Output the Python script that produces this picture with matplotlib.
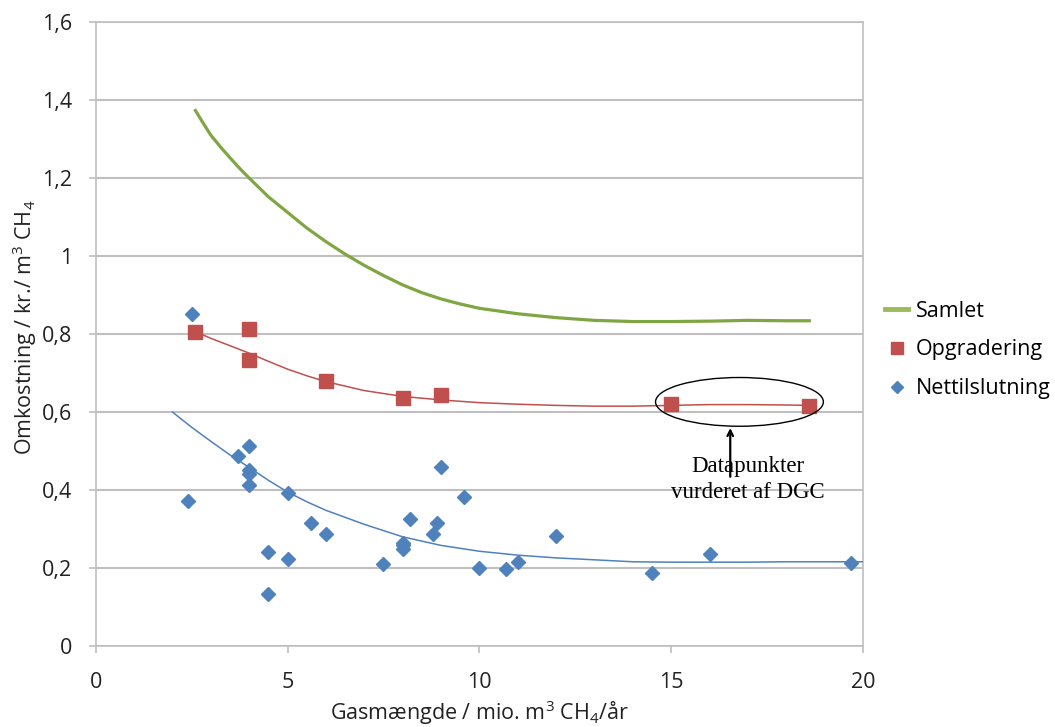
import matplotlib
matplotlib.use("Agg")
import matplotlib.pyplot as plt
from matplotlib.lines import Line2D
from matplotlib.patches import Ellipse

plt.rcParams['font.family'] = ['Open Sans', 'DejaVu Sans']
plt.rcParams['mathtext.fontset'] = 'custom'
plt.rcParams['mathtext.rm'] = 'Open Sans'
plt.rcParams['mathtext.it'] = 'Open Sans'

# Nettilslutning (blue diamonds)
net_x = [2.5, 2.4, 3.7, 4, 4, 4, 4, 4.5, 4.5, 5, 5, 5.6, 6, 7.5, 8, 8, 8, 8.2,
         8.8, 8.9, 9, 9.6, 10, 10.7, 11, 12, 14.5, 16, 19.7]
net_y = [0.851, 0.373, 0.486, 0.514, 0.452, 0.440, 0.413, 0.240, 0.133, 0.393,
         0.224, 0.315, 0.287, 0.210, 0.265, 0.258, 0.250, 0.325, 0.286, 0.315,
         0.458, 0.383, 0.199, 0.197, 0.215, 0.283, 0.186, 0.236, 0.214]

# Opgradering (red squares)
opg_x = [2.6, 4, 4, 6, 8, 9, 15, 18.6]
opg_y = [0.806, 0.813, 0.733, 0.680, 0.635, 0.644, 0.620, 0.616]

# trend lines
net_trend_x = [2, 2.5, 3, 3.5, 4, 4.5, 5, 5.5, 6, 7, 8, 9, 10, 11, 12, 13, 14,
               15, 16, 17, 18, 19, 20]
net_trend_y = [0.600, 0.561, 0.525, 0.490, 0.458, 0.425, 0.395, 0.370, 0.348,
               0.312, 0.280, 0.258, 0.243, 0.233, 0.226, 0.221, 0.216, 0.215,
               0.215, 0.215, 0.216, 0.216, 0.216]

opg_trend_x = [2.6, 3, 3.5, 4, 4.5, 5, 5.5, 6, 7, 8, 9, 10, 11, 12, 13, 14, 15,
               16, 17, 18, 18.6]
opg_trend_y = [0.806, 0.789, 0.770, 0.751, 0.730, 0.710, 0.693, 0.678, 0.655,
               0.640, 0.631, 0.624, 0.620, 0.617, 0.615, 0.615, 0.617, 0.619,
               0.619, 0.618, 0.617]

# Samlet (green line)
sam_x = [2.6, 2.8, 3, 3.25, 3.5, 3.75, 4, 4.5, 5, 5.5, 6, 6.5, 7, 7.5, 8, 8.5,
         9, 9.5, 10, 11, 12, 13, 14, 15, 16, 17, 18, 18.6]
sam_y = [1.373, 1.341, 1.310, 1.280, 1.252, 1.225, 1.200, 1.152, 1.112, 1.072,
         1.037, 1.005, 0.976, 0.950, 0.926, 0.906, 0.890, 0.877, 0.866, 0.852,
         0.842, 0.835, 0.832, 0.832, 0.833, 0.835, 0.834, 0.834]

yticks = [0, 0.2, 0.4, 0.6, 0.8, 1.0, 1.2, 1.4, 1.6]
ytick_labels = ["0", "0,2", "0,4", "0,6", "0,8", "1", "1,2", "1,4", "1,6"]
xticks = [0, 5, 10, 15, 20]

green = '#80a644'
red = '#c0504d'
blue = '#4f81bd'
gridc = '#bfbfbf'
txt = '#222222'

fig = plt.figure(figsize=(10.55, 7.27), dpi=100)
ax = fig.add_axes([0.0907, 0.1114, 0.7273, 0.8583])

ax.plot(sam_x, sam_y, color=green, lw=2.3, zorder=3)
ax.plot(opg_trend_x, opg_trend_y, color=red, lw=1.1, zorder=3)
ax.plot(net_trend_x, net_trend_y, color=blue, lw=1.1, zorder=3)
ax.plot(opg_x, opg_y, 's', color=red, ms=9.5, mec=red, zorder=4)
ax.plot(net_x, net_y, 'D', color=blue, ms=7.2, mec=blue, zorder=4)

ax.set_xlim(0, 20)
ax.set_ylim(0, 1.6)
ax.set_xticks(xticks)
ax.set_yticks(yticks)
ax.set_yticklabels(ytick_labels)
ax.yaxis.grid(True, color=gridc, lw=1.5)
ax.set_axisbelow(True)
for s in ax.spines.values():
    s.set_color(gridc)
    s.set_linewidth(1.2)
ax.tick_params(axis='both', colors=gridc, labelcolor=txt, labelsize=15.5,
               length=5, width=1.2)
ax.tick_params(axis='y', pad=12)
ax.tick_params(axis='x', pad=14)

ax.set_xlabel('Gasmængde / mio. m$^3$ CH$_4$/år', fontsize=15.5, color=txt)
ax.xaxis.label.set_va('center')
ax.xaxis.set_label_coords(0.5, -0.107)
ax.set_ylabel('Omkostning / kr./ m$^3$ CH$_4$', fontsize=15.5, color=txt)
ax.yaxis.label.set_va('center')
ax.yaxis.set_label_coords(-0.092, 0.51)

# annotation
ax.add_patch(Ellipse((16.78, 0.626), 4.375, 0.125, fill=False, ec='black',
                     lw=1.0, zorder=5))
ax.annotate('', xy=(16.54, 0.559), xytext=(16.54, 0.434),
            arrowprops=dict(arrowstyle='->', color='black', lw=1.6,
                            shrinkA=0, shrinkB=0), zorder=5)
ax.text(17.0, 0.447, 'Datapunkter', family='Liberation Serif', fontsize=16.5,
        ha='center', va='baseline', zorder=6)
ax.text(17.0, 0.379, 'vurderet af DGC', family='Liberation Serif', fontsize=16.5,
        ha='center', va='baseline', zorder=6)

handles = [Line2D([], [], color='#9bbb59', lw=3.5),
           Line2D([], [], marker='s', ls='none', color=red, ms=9),
           Line2D([], [], marker='D', ls='none', color=blue, ms=6)]
fig.legend(handles, ['Samlet', 'Opgradering', 'Nettilslutning'],
           loc='upper left', bbox_to_anchor=(0.829, 0.601), frameon=False,
           fontsize=15.5, handlelength=1.05, handletextpad=0.35,
           labelspacing=0.82, borderpad=0)

fig.savefig('out.png', dpi=100)
